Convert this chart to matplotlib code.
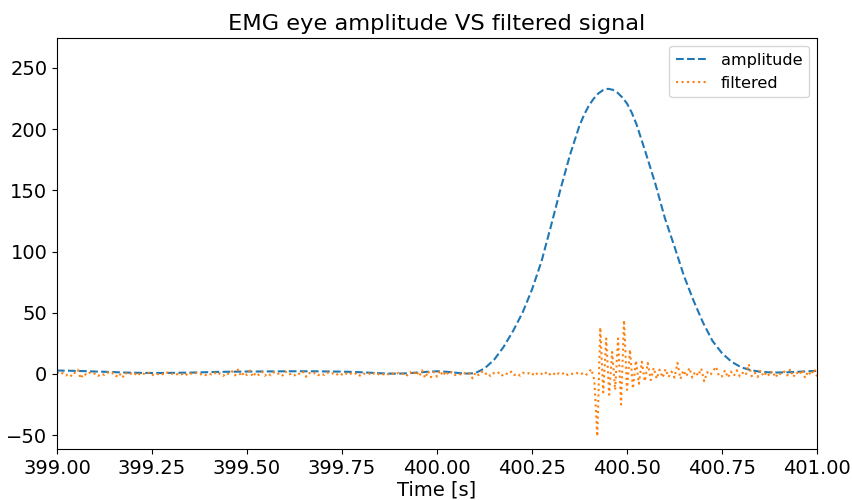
import numpy as np
import matplotlib
matplotlib.use("Agg")
import matplotlib.pyplot as plt

# Envelope (amplitude) of the eye EMG
amp_times = [
    399.000, 399.025, 399.050, 399.075, 399.100, 399.125, 399.150, 399.175, 399.200, 399.225,
    399.250, 399.275, 399.300, 399.325, 399.350, 399.375, 399.400, 399.425, 399.450, 399.475,
    399.500, 399.525, 399.550, 399.575, 399.600, 399.625, 399.650, 399.675, 399.700, 399.725,
    399.750, 399.775, 399.800, 399.825, 399.850, 399.875, 399.900, 399.925, 399.950, 399.975,
    400.000, 400.025, 400.050, 400.075, 400.100, 400.125, 400.150, 400.175, 400.200, 400.225,
    400.250, 400.275, 400.300, 400.325, 400.350, 400.375, 400.3875, 400.400, 400.4125, 400.425,
    400.4375, 400.450, 400.4625, 400.475, 400.4875, 400.500, 400.5125, 400.525, 400.550, 400.575,
    400.600, 400.625, 400.650, 400.675, 400.700, 400.725, 400.750, 400.775, 400.800, 400.825,
    400.850, 400.875, 400.900, 400.925, 400.950, 400.975, 401.000,
]
amplitude = [
    2.8, 2.7, 2.5, 2.3, 2.0, 1.8, 1.5, 1.2, 1.0, 0.9,
    0.8, 0.8, 0.9, 1.0, 1.1, 1.3, 1.5, 1.7, 1.8, 1.9,
    2.0, 2.0, 2.1, 2.1, 2.2, 2.2, 2.2, 2.2, 2.1, 2.0,
    1.9, 1.7, 1.4, 1.0, 0.6, 0.3, 0.3, 0.6, 1.2, 1.8,
    2.2, 1.8, 1.0, 0.3, 0.6, 4.5, 11.5, 22.0, 35.0, 50.0,
    69.0, 92.0, 121.0, 151.0, 179.0, 203.0, 212.0, 219.5, 225.0, 229.3,
    232.0, 233.0, 232.2, 229.8, 226.0, 221.0, 213.5, 204.0, 180.0, 155.0,
    127.0, 104.0, 80.0, 60.0, 42.0, 27.0, 17.0, 10.0, 5.5, 3.2,
    1.8, 1.3, 1.2, 1.4, 1.8, 2.2, 2.5,
]

# Band-pass filtered EMG, 128 Hz
fs = 128.0
filt_t0 = 399.0
filtered = [
    1.5, -0.5, 0.8, -1.2, 0.3, -2.0, 1.0, 3.5, -3.8, 0.5, -1.0, 1.2, -0.4, 0.7, -1.5, 0.2,
    -0.8, 1.4, -0.3, 0.9, -1.8, 0.6, -3.2, 1.1, -0.6, 0.4, -1.1, 1.6, -0.9, 0.3, -0.5, 1.0,
    -1.3, 0.5, -0.2, 0.8, -0.7, 1.2, -0.4, 0.2, -0.9, 0.6, -0.3, 1.0, -1.4, 0.4, -0.2, 0.9,
    -0.6, 0.3, -1.0, 0.7, -0.4, 1.3, -0.8, 0.5, -1.6, 0.9, -0.3, 2.2, -1.2, 3.6, -2.0, 1.4,
    -1.0, 2.8, -2.4, 1.2, -0.8, 1.9, -1.5, 0.6, -1.1, 1.5, -0.5, 0.8, -1.3, 2.0, -0.7, 0.4,
    -1.2, 1.0, -0.6, 1.7, -2.3, 0.8, -0.4, 1.1, -1.0, 0.5, -0.8, 1.3, -0.3, 0.6, -1.1, 0.9,
    -0.5, 1.2, -0.9, 0.4, -0.6, 1.0, -1.4, 0.7, -0.3, 0.5, -1.0, 0.8, -0.7, 1.1, -0.4, 0.6,
    -0.9, 0.4, -0.6, 1.0, -0.3, 0.8, -1.2, 1.5, -0.7, 2.6, -1.9, 3.0, -3.4, 2.4, -2.6, 1.8,
    -2.2, 2.9, -1.6, 2.2, -0.8, 1.6, -1.0, 0.6, -0.4, 1.2, -0.7, 0.5, -3.6, 1.3, -0.9, 2.0,
    -0.6, 1.1, -1.8, 0.7, -0.3, 1.5, -1.2, 0.8, -0.5, 1.9, -0.9, 0.4, -1.4, 1.0, -0.2, 0.7,
    -1.0, 1.6, -0.7, 0.3, -0.9, 1.8, -0.4, 1.2, -1.3, 0.6, -0.5, 1.4, -0.8, 0.5, -0.3, 0.9,
    -0.6, 0.4, -1.2, 1.0, 4.0, -5.0, -51.0, 38.0, -15.0, 29.0, -17.0, 18.0, -13.0, 29.0, -25.0, 44.0,
    -13.0, 20.0, -12.0, 11.0, -8.0, 10.0, -6.0, 9.0, -5.0, 5.0, -4.0, 3.5, -3.0, 4.0, -2.5, 2.0,
    -3.0, 9.0, -4.0, 3.0, -2.0, 5.0, -3.0, 2.0, -1.5, 4.5, -6.0, 1.5, -1.0, 2.5, 6.0, -2.0,
    -2.0, 3.0, -3.0, 2.0, -1.5, 3.0, -2.0, 1.0, -1.0, 8.0, -1.8, 1.2, -2.5, 3.0, -2.0, 1.5,
    -1.5, 2.5, -3.0, 1.0, -0.5, 2.0, -1.2, 4.0, -2.5, 1.5, -0.8, 3.5, -3.2, 2.2, -1.0, 4.2,
    -2.0,
]

t_filt = filt_t0 + np.arange(len(filtered)) / fs

plt.rcParams["font.family"] = ["DejaVu Sans"]

fig = plt.figure(figsize=(8.53, 5.0), dpi=100)
ax = fig.add_axes([0.0668, 0.102, 0.891, 0.822])

ax.plot(amp_times, amplitude, linestyle="--", color="#1f77b4", lw=1.5, label="amplitude")
ax.plot(t_filt, filtered, linestyle=":", color="#ff7f0e", lw=1.5, label="filtered")

ax.set_xlim(399.0, 401.0)
ax.set_ylim(-61.3, 274.5)
ax.set_xticks(np.arange(399.0, 401.01, 0.25))
ax.xaxis.set_major_formatter(matplotlib.ticker.FormatStrFormatter("%.2f"))
ax.set_yticks([-50, 0, 50, 100, 150, 200, 250])
ax.tick_params(labelsize=14)

ax.set_title("EMG eye amplitude VS filtered signal", fontsize=16.2)
ax.set_xlabel("Time [s]", fontsize=14, labelpad=2)
ax.legend(loc="upper right", fontsize=11.6)

fig.savefig("out.png", dpi=100)
